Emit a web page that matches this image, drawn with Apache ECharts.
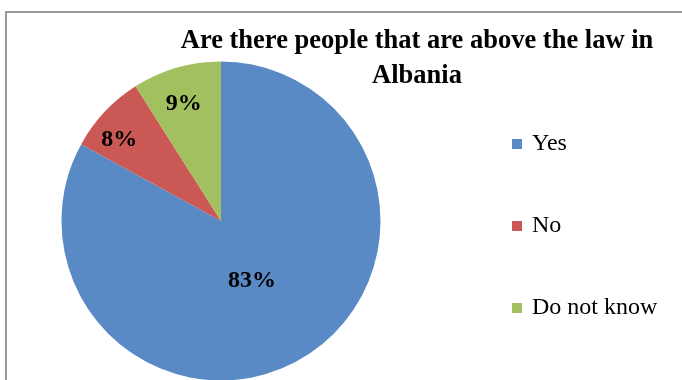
<!DOCTYPE html>
<html>
<head>
<meta charset="utf-8">
<script src="https://cdn.jsdelivr.net/npm/echarts@6/dist/echarts.min.js"></script>
<style>
  html, body { margin: 0; padding: 0; background: #fff; }
  #chart { width: 682px; height: 380px; }
</style>
</head>
<body>
<div id="chart"></div>
<script>
// Survey answers and their shares (percent)
const categories = ['Yes', 'No', 'Do not know'];
const shares = [83, 8, 9];
const sliceColors = ['#5A8AC6', '#CA5955', '#A2C05F'];
const titleText = 'Are there people that are above the law in\nAlbania';

// Percentage label placement: distance from the centre (fraction of radius)
// and a small turn (degrees) away from each slice's middle ray
const labelRadiusRatio = [0.425, 0.815, 0.77];
const labelAngleShift = [3.3, -4.7, -1.5];

const pieCenter = [221, 221];
const pieRadius = 159.5;

const total = shares.reduce((a, b) => a + b, 0);
// Middle angle of each slice, measured clockwise from 12 o'clock
const midAngles = [];
let acc = 0;
shares.forEach(v => {
  const sweep = v / total * 2 * Math.PI;
  midAngles.push(acc + sweep / 2);
  acc += sweep;
});

const chart = echarts.init(document.getElementById('chart'), null, { renderer: 'canvas' });

chart.setOption({
  backgroundColor: '#ffffff',
  animation: false,
  title: {
    text: titleText,
    left: 412,
    top: 19,
    textAlign: 'center',
    textStyle: {
      fontFamily: 'Liberation Serif',
      fontWeight: 'bold',
      fontSize: 26.5,
      lineHeight: 35,
      color: '#000'
    }
  },
  legend: {
    orient: 'vertical',
    left: 507,
    top: 127,
    icon: 'rect',
    itemWidth: 10,
    itemHeight: 10,
    itemGap: 58,
    selectedMode: false,
    data: categories,
    textStyle: {
      fontFamily: 'Liberation Serif',
      fontSize: 24,
      lineHeight: 24,
      color: '#000',
      padding: [0, 0, 0, 5]
    }
  },
  graphic: [{
    type: 'rect',
    silent: true,
    z: 100,
    shape: { x: 6, y: 12, width: 700, height: 400 },
    style: { fill: 'none', stroke: '#999999', lineWidth: 2 }
  }],
  series: [{
    type: 'pie',
    center: pieCenter,
    radius: [0, pieRadius],
    startAngle: 90,
    clockwise: true,
    color: sliceColors,
    data: categories.map((name, i) => ({ name: name, value: shares[i] })),
    label: {
      show: true,
      position: 'inside',
      formatter: p => p.value + '%',
      fontFamily: 'Liberation Serif',
      fontWeight: 'bold',
      fontSize: 24,
      color: '#000'
    },
    labelLine: { show: false },
    emphasis: { disabled: true },
    labelLayout: function (params) {
      const i = params.dataIndex;
      const a = midAngles[i] + labelAngleShift[i] * Math.PI / 180;
      const r = pieRadius * labelRadiusRatio[i];
      return {
        x: pieCenter[0] + r * Math.sin(a),
        y: pieCenter[1] - r * Math.cos(a),
        align: 'center',
        verticalAlign: 'middle'
      };
    }
  }]
});
</script>
</body>
</html>
